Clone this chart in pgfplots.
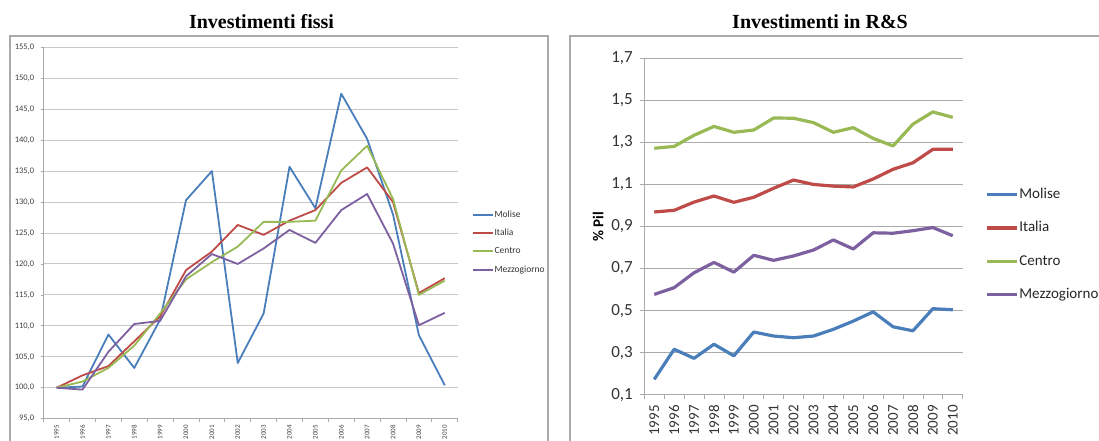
\documentclass[border=0pt]{standalone}
\usepackage{pgfplots}
\pgfplotsset{compat=1.18}
\usepackage{fontspec}
\setmainfont{Carlito}
\newfontfamily\titlefont{Liberation Serif}
\definecolor{xlblue}{RGB}{74,126,187}
\definecolor{xlred}{RGB}{190,75,72}
\definecolor{xlgreen}{RGB}{152,185,84}
\definecolor{xlpurple}{RGB}{125,96,160}
\definecolor{gridgray}{RGB}{200,200,200}
\definecolor{axgray}{RGB}{170,170,170}
\begin{document}
\begin{tikzpicture}
\path[use as bounding box] (0pt,0pt) rectangle (1099pt,441pt);
% panel frames
\draw[axgray, line width=1.2pt] (10pt,-5pt) -- (10pt,405pt) -- (548pt,405pt) -- (548pt,-5pt);
\draw[axgray, line width=1.2pt] (570pt,-5pt) -- (570pt,405pt) -- (1104pt,405pt);
% titles
\node[anchor=base, inner sep=0pt, font=\titlefont\bfseries\fontsize{20}{22}\selectfont] at (261.5pt,412.7pt) {Investimenti fissi};
\node[anchor=base, inner sep=0pt, font=\titlefont\bfseries\fontsize{20}{22}\selectfont] at (820pt,412.7pt) {Investimenti in R\&S};

% ---------------- left axis
\begin{axis}[
  at={(43.7pt,22.3pt)}, anchor=south west,
  scale only axis, width=414pt, height=371.4pt,
  xmin=1994.5, xmax=2010.5, ymin=95, ymax=155,
  axis lines=left, axis line style={-, draw=axgray, line width=0.8pt},
  ytick={95,100,...,155},
  yticklabels={{95,0},{100,0},{105,0},{110,0},{115,0},{120,0},{125,0},{130,0},{135,0},{140,0},{145,0},{150,0},{155,0}},
  xtick={1995,...,2010},
  xticklabels={1995,1996,1997,1998,1999,2000,2001,2002,2003,2004,2005,2006,2007,2008,2009,2010},
  minor xtick={1994.5,1995.5,...,2010.5},
  tick align=outside,
  major tick length=3pt, minor tick length=3pt,
  major x tick style={draw=none},
  tick style={draw=axgray, line width=0.8pt},
  ymajorgrids, grid style={gridgray, line width=1pt},
  yticklabel style={font=\fontsize{8.5}{10}\selectfont, text=black!75, xshift=-3pt},
  xticklabel style={rotate=90, anchor=east, font=\fontsize{7}{8}\selectfont, text=black!75},
  legend style={at={(1.034,0.564)}, anchor=north west, draw=none, fill=none,
    font=\fontsize{9.5}{11}\selectfont, row sep=7.7pt, inner sep=0pt,
    nodes={inner sep=0.8pt, text height=7pt, text depth=2pt, text=black!80}},
  legend cell align=left,
  legend image code/.code={\draw[#1] (0pt,0pt) -- (20pt,0pt);},
  every axis plot/.append style={line width=1.8pt, line join=round},
]
\addplot[xlblue] coordinates {(1995,100.0)(1996,100.2)(1997,108.6)(1998,103.2)(1999,111.0)(2000,130.3)(2001,135.0)(2002,104.0)(2003,112.0)(2004,135.7)(2005,129.0)(2006,147.5)(2007,140.2)(2008,128.0)(2009,108.5)(2010,100.4)};
\addplot[xlred] coordinates {(1995,100.0)(1996,102.0)(1997,103.5)(1998,107.5)(1999,111.5)(2000,119.0)(2001,122.0)(2002,126.3)(2003,124.7)(2004,127.0)(2005,128.7)(2006,133.1)(2007,135.6)(2008,130.0)(2009,115.3)(2010,117.7)};
\addplot[xlgreen] coordinates {(1995,100.0)(1996,101.0)(1997,103.2)(1998,106.8)(1999,112.0)(2000,117.5)(2001,120.3)(2002,122.8)(2003,126.8)(2004,126.8)(2005,127.0)(2006,135.1)(2007,139.1)(2008,130.5)(2009,115.0)(2010,117.3)};
\addplot[xlpurple] coordinates {(1995,100.0)(1996,99.7)(1997,105.8)(1998,110.3)(1999,110.8)(2000,118.0)(2001,121.6)(2002,120.0)(2003,122.5)(2004,125.5)(2005,123.4)(2006,128.7)(2007,131.3)(2008,123.3)(2009,110.1)(2010,112.1)};
\legend{Molise,Italia,Centro,Mezzogiorno}
\end{axis}

% ---------------- right axis
\begin{axis}[
  at={(644.3pt,46.3pt)}, anchor=south west,
  scale only axis, width=318.4pt, height=336.4pt,
  xmin=1994.5, xmax=2010.5, ymin=0.1, ymax=1.7,
  axis lines=left, axis line style={-, draw=axgray, line width=0.8pt},
  ytick={0.1,0.3,0.5,0.7,0.9,1.1,1.3,1.5,1.7},
  yticklabels={{0,1},{0,3},{0,5},{0,7},{0,9},{1,1},{1,3},{1,5},{1,7}},
  xtick={1995,...,2010},
  xticklabels={1995,1996,1997,1998,1999,2000,2001,2002,2003,2004,2005,2006,2007,2008,2009,2010},
  minor xtick={1994.5,1995.5,...,2010.5},
  tick align=outside,
  major tick length=4pt, minor tick length=4pt,
  major x tick style={draw=none},
  tick style={draw=axgray, line width=0.8pt},
  ymajorgrids, grid style={axgray, line width=0.9pt},
  yticklabel style={font=\fontsize{17}{19}\selectfont, text=black!80, xshift=-4pt},
  xticklabel style={rotate=90, anchor=east, font=\fontsize{15}{17}\selectfont, text=black!80, xshift=-3pt},
  ylabel={\bfseries\% Pil},
  ylabel style={at={(axis description cs:-0.145,0.5)}, anchor=center, font=\fontsize{15}{17}\selectfont},
  legend style={at={(1.07,0.622)}, anchor=north west, draw=none, fill=none,
    font=\fontsize{15}{17}\selectfont, row sep=15.3pt, inner sep=0pt,
    nodes={inner sep=1pt, text height=12pt, text depth=4pt, text=black!85}},
  legend cell align=left,
  legend image code/.code={\draw[#1] (0pt,0pt) -- (30pt,0pt);},
  every axis plot/.append style={line width=3.2pt, line join=round},
]
\addplot[xlblue] coordinates {(1995,0.173)(1996,0.316)(1997,0.273)(1998,0.340)(1999,0.285)(2000,0.398)(2001,0.379)(2002,0.371)(2003,0.379)(2004,0.411)(2005,0.450)(2006,0.494)(2007,0.423)(2008,0.404)(2009,0.509)(2010,0.504)};
\addplot[xlred] coordinates {(1995,0.969)(1996,0.977)(1997,1.016)(1998,1.045)(1999,1.015)(2000,1.039)(2001,1.082)(2002,1.121)(2003,1.100)(2004,1.092)(2005,1.088)(2006,1.126)(2007,1.172)(2008,1.203)(2009,1.267)(2010,1.267)};
\addplot[xlgreen] coordinates {(1995,1.272)(1996,1.281)(1997,1.334)(1998,1.376)(1999,1.348)(2000,1.359)(2001,1.416)(2002,1.415)(2003,1.394)(2004,1.348)(2005,1.370)(2006,1.319)(2007,1.283)(2008,1.387)(2009,1.445)(2010,1.419)};
\addplot[xlpurple] coordinates {(1995,0.577)(1996,0.609)(1997,0.680)(1998,0.729)(1999,0.683)(2000,0.763)(2001,0.739)(2002,0.760)(2003,0.788)(2004,0.836)(2005,0.793)(2006,0.870)(2007,0.868)(2008,0.880)(2009,0.895)(2010,0.856)};
\legend{Molise,Italia,Centro,Mezzogiorno}
\end{axis}
\end{tikzpicture}
\end{document}
